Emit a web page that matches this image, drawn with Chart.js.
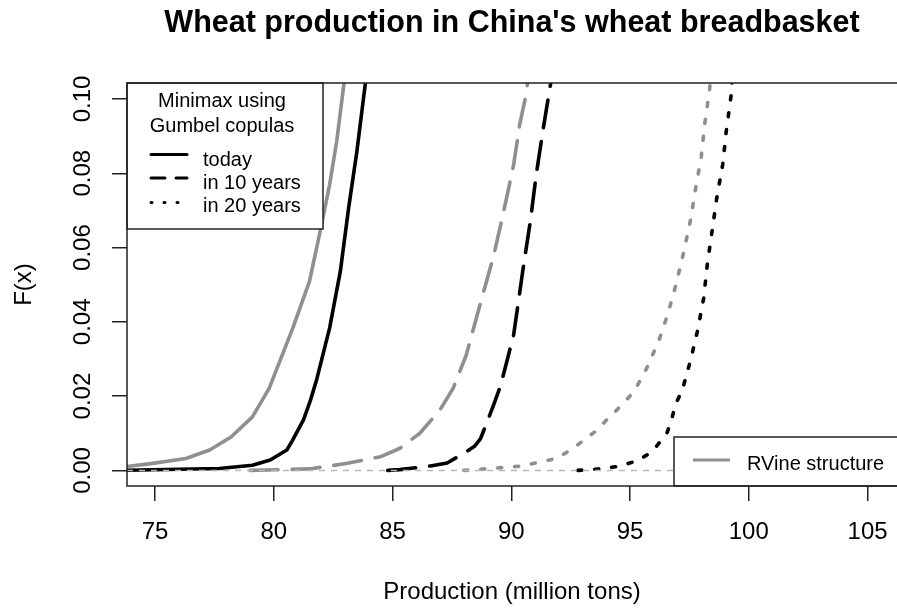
<!DOCTYPE html>
<html><head><meta charset="utf-8">
<script src="https://cdn.jsdelivr.net/npm/chart.js@4/dist/chart.umd.min.js"></script>
<style>html,body{margin:0;padding:0;background:#fff;overflow:hidden;}</style>
</head><body>
<canvas id="c" width="897" height="610" style="width:897px;height:610px;display:block"></canvas>
<script>
// ---- data ----
const xTicks = [75, 80, 85, 90, 95, 100, 105];
const yTicks = [0, 0.02, 0.04, 0.06, 0.08, 0.10];

const todayRVineX = [73.5, 74.9, 76.3, 77.3, 78.2, 79.1, 79.8, 80.8, 81.5, 81.95, 82.35, 82.65, 82.95, 83.05];
const todayRVineF = [0.0008, 0.0019, 0.0032, 0.0055, 0.009, 0.0144, 0.022, 0.0383, 0.0508, 0.0643, 0.0769, 0.0886, 0.1039, 0.11];

const todayGumbelX = [73.5, 77.7, 79.1, 79.85, 80.55, 80.8, 81.25, 81.55, 81.8, 82.35, 82.8, 83.15, 83.5, 83.85, 83.95];
const todayGumbelF = [0, 0.0005, 0.0014, 0.0028, 0.0055, 0.0082, 0.0136, 0.019, 0.0243, 0.0383, 0.0535, 0.0706, 0.0859, 0.1039, 0.11];

const tenRVineX = [79.0, 81.5, 83.1, 84.5, 85.3, 86.15, 87.0, 87.55, 88.1, 88.7, 89.25, 89.65, 90.1, 90.35, 90.65, 90.75];
const tenRVineF = [0, 0.0004, 0.0019, 0.0037, 0.0059, 0.01, 0.0163, 0.0221, 0.031, 0.045, 0.0576, 0.0688, 0.0823, 0.093, 0.102, 0.11];

const tenGumbelX = [84.8, 85.3, 86.6, 87.3, 88.1, 88.45, 88.7, 88.95, 89.25, 89.55, 90.1, 90.5, 90.8, 91.05, 91.35, 91.65, 91.75];
const tenGumbelF = [0, 0.0002, 0.0012, 0.002, 0.005, 0.0065, 0.0085, 0.0125, 0.0175, 0.0228, 0.0365, 0.0544, 0.067, 0.0796, 0.0922, 0.1039, 0.11];

const twentyRVineX = [88.0, 89.1, 90.5, 91.2, 91.9, 92.5, 93.05, 93.6, 94.0, 94.45, 94.85, 95.2, 95.7, 96.2, 96.6, 96.95, 97.25, 97.55, 97.75, 98.0, 98.15, 98.35, 98.45];
const twentyRVineF = [0, 0.0005, 0.0012, 0.0023, 0.0032, 0.0055, 0.0081, 0.0108, 0.0135, 0.0163, 0.019, 0.0215, 0.0275, 0.0347, 0.0423, 0.0504, 0.0585, 0.0675, 0.0755, 0.0845, 0.0935, 0.1025, 0.11];

const twentyGumbelX = [92.8, 93.05, 93.9, 94.6, 95.3, 95.7, 96.1, 96.55, 96.75, 96.9, 97.2, 97.55, 97.85, 98.1, 98.25, 98.45, 98.65, 98.9, 99.05, 99.25, 99.35];
const twentyGumbelF = [0, 0.0001, 0.0005, 0.0012, 0.0026, 0.0041, 0.0064, 0.01, 0.0136, 0.0176, 0.0216, 0.0297, 0.0378, 0.0464, 0.0553, 0.0643, 0.0733, 0.0823, 0.0913, 0.1007, 0.11];

const titleText = "Wheat production in China's wheat breadbasket";
const xLabel = "Production (million tons)";
const yLabel = "F(x)";
const legendTitle = ["Minimax using", "Gumbel copulas"];
const legendRows = ["today", "in 10 years", "in 20 years"];
const legend2Text = "RVine structure";

// ---- styling ----
const FONT = "'Liberation Sans', Arial, Helvetica, sans-serif";
const GREY = '#8f8f8f';
const BLACK = '#000000';
const DASH = [28, 14];
const DOT = [4, 13];

function pts(xs, ys) { return xs.map((x, i) => ({x: x, y: ys[i]})); }
function ds(label, xs, ys, color, dash) {
  return {
    label: label, data: pts(xs, ys), showLine: true, borderColor: color,
    borderWidth: 3.6, borderDash: dash, borderCapStyle: 'round', borderJoinStyle: 'round',
    pointRadius: 0, tension: 0, fill: false
  };
}

const overlay = {
  id: 'overlay',
  afterDatasetsDraw(chart) {
    const ctx = chart.ctx, a = chart.chartArea;
    const ys = chart.scales.y;
    ctx.save();
    // dashed zero line
    const y0 = ys.getPixelForValue(0);
    ctx.strokeStyle = '#b9b9b9'; ctx.lineWidth = 1.5; ctx.setLineDash([6, 6]);
    ctx.beginPath(); ctx.moveTo(a.left, y0); ctx.lineTo(a.right, y0); ctx.stroke();
    ctx.setLineDash([]);

    // legend 1 (top-left)
    const L1 = {l: a.left, t: a.top, r: 323, b: 229};
    ctx.fillStyle = '#fff';
    ctx.fillRect(L1.l, L1.t, L1.r - L1.l, L1.b - L1.t);
    ctx.strokeStyle = '#222'; ctx.lineWidth = 1.5;
    ctx.strokeRect(L1.l, L1.t, L1.r - L1.l, L1.b - L1.t);
    ctx.fillStyle = '#000';
    ctx.font = '20px ' + FONT;
    ctx.textAlign = 'center'; ctx.textBaseline = 'alphabetic';
    ctx.fillText(legendTitle[0], 222, 106.5);
    ctx.fillText(legendTitle[1], 222, 131.5);
    const rowY = [154.5, 178, 202.5];
    const rowBase = [165.5, 188.5, 211.5];
    const rowDash = [[], [14, 11], [1, 12]];
    ctx.lineWidth = 3; ctx.lineCap = 'round';
    for (let i = 0; i < 3; i++) {
      ctx.strokeStyle = '#000';
      ctx.setLineDash(rowDash[i]);
      ctx.beginPath(); ctx.moveTo(151, rowY[i]); ctx.lineTo(187, rowY[i]); ctx.stroke();
      ctx.setLineDash([]);
      ctx.textAlign = 'left';
      ctx.fillText(legendRows[i], 203, rowBase[i]);
    }
    ctx.lineCap = 'butt';

    // legend 2 (bottom-right)
    const L2 = {l: 674, t: 437, r: chart.width + 2, b: a.bottom};
    ctx.fillStyle = '#fff';
    ctx.fillRect(L2.l, L2.t, L2.r - L2.l, L2.b - L2.t);
    ctx.strokeStyle = '#222'; ctx.lineWidth = 1.5;
    ctx.strokeRect(L2.l, L2.t, L2.r - L2.l, L2.b - L2.t);
    ctx.strokeStyle = GREY; ctx.lineWidth = 3;
    ctx.beginPath(); ctx.moveTo(693, 460); ctx.lineTo(730, 460); ctx.stroke();
    ctx.fillStyle = '#000'; ctx.textAlign = 'left';
    ctx.fillText(legend2Text, 747, 470);

    // plot frame
    ctx.strokeStyle = '#222'; ctx.lineWidth = 1.5;
    ctx.beginPath();
    ctx.moveTo(a.right + 2, a.top); ctx.lineTo(a.left, a.top);
    ctx.lineTo(a.left, a.bottom); ctx.lineTo(a.right + 2, a.bottom);
    ctx.stroke();
    ctx.restore();
  }
};

new Chart(document.getElementById('c'), {
  type: 'scatter',
  data: {
    datasets: [
      ds('today (Gumbel)', todayGumbelX, todayGumbelF, BLACK, []),
      ds('in 10 years (Gumbel)', tenGumbelX, tenGumbelF, BLACK, DASH),
      ds('in 20 years (Gumbel)', twentyGumbelX, twentyGumbelF, BLACK, DOT),
      ds('today (RVine)', todayRVineX, todayRVineF, GREY, []),
      ds('in 10 years (RVine)', tenRVineX, tenRVineF, GREY, DASH),
      ds('in 20 years (RVine)', twentyRVineX, twentyRVineF, GREY, DOT)
    ]
  },
  options: {
    responsive: false, animation: false, devicePixelRatio: 1,
    layout: {padding: 0},
    plugins: {
      legend: {display: false}, tooltip: {enabled: false},
      title: {
        display: true, text: titleText, fullSize: false, color: '#000',
        font: {family: FONT, size: 30.5, weight: 'bold', lineHeight: 1.2},
        padding: {top: 5.7, bottom: 40.7}
      }
    },
    scales: {
      x: {
        type: 'linear', min: 73.82, max: 106.24,
        afterBuildTicks: s => { s.ticks = xTicks.map(v => ({value: v})); },
        afterFit: s => { s.height = 124; s.paddingLeft = 0; s.paddingRight = 0; },
        grid: {drawOnChartArea: false, drawTicks: true, tickLength: 15, color: '#222', lineWidth: 1.5},
        border: {display: false},
        ticks: {font: {family: FONT, size: 24}, color: '#000', padding: 17, maxRotation: 0, minRotation: 0,
                callback: v => String(v)},
        title: {display: true, text: xLabel, color: '#000', font: {family: FONT, size: 24, lineHeight: 1.2},
                padding: {top: 0, bottom: 3}}
      },
      y: {
        type: 'linear', min: -0.0042, max: 0.1043,
        afterBuildTicks: s => { s.ticks = yTicks.map(v => ({value: v})); },
        afterFit: s => { s.width = 127; s.paddingTop = 0; s.paddingBottom = 0; },
        grid: {drawOnChartArea: false, drawTicks: true, tickLength: 15, color: '#222', lineWidth: 1.5},
        border: {display: false},
        ticks: {font: {family: FONT, size: 24}, color: '#000', padding: 5.5, minRotation: 90, maxRotation: 90,
                crossAlign: 'center', callback: v => Number(v).toFixed(2)},
        title: {display: true, text: yLabel, color: '#000', font: {family: FONT, size: 24, lineHeight: 1.2},
                padding: {top: 10, bottom: 0}}
      }
    }
  },
  plugins: [overlay]
});
</script>
</body></html>
